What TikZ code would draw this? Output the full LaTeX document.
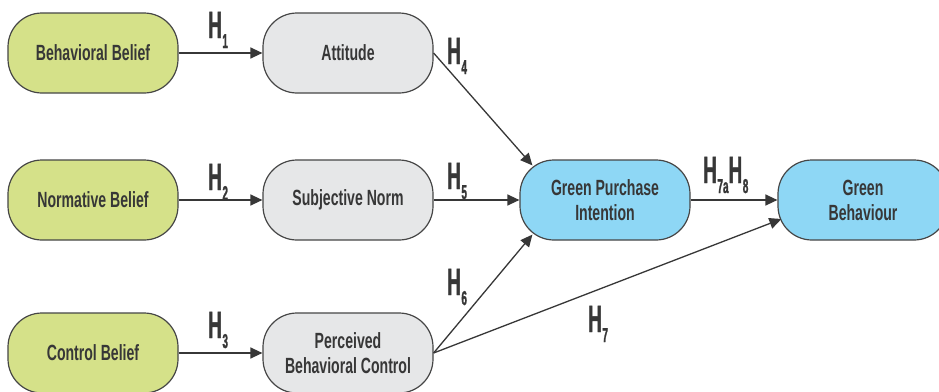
\documentclass[tikz,border=0pt]{standalone}
\usepackage{fontspec}
\setmainfont{Liberation Sans}
\newfontfamily\boxfont[FakeStretch=0.64]{Liberation Sans}
\newfontfamily\hfont[FakeStretch=0.5,FakeBold=1.2]{Liberation Sans}
\usetikzlibrary{arrows.meta,calc}
\definecolor{greenfill}{RGB}{213,225,137}
\definecolor{grayfill}{RGB}{230,231,232}
\definecolor{bluefill}{RGB}{142,215,245}
\definecolor{edgecol}{RGB}{70,70,70}
\definecolor{txtcol}{RGB}{55,55,55}
\newcommand{\hyp}[1]{{\hfont\bfseries\fontsize{38}{38}\selectfont H\kern0.5pt\raisebox{-10pt}{\fontsize{20}{20}\selectfont #1}}}
\tikzset{
  box/.style={draw=edgecol, line width=1.2pt, rounded corners=34pt,
    minimum width=170pt, minimum height=80pt, inner sep=0pt, align=center,
    text=txtcol, font=\boxfont\bfseries\fontsize{22}{25}\selectfont},
  greenbox/.style={box, fill=greenfill},
  graybox/.style={box, fill=grayfill},
  bluebox/.style={box, fill=bluefill},
  conn/.style={draw=txtcol, line width=1.3pt, -{Triangle[length=12pt,width=11pt]}},
  hlabel/.style={anchor=base west, inner sep=0pt, text=txtcol}
}
\begin{document}
\begin{tikzpicture}[x=1pt,y=-1pt]
\clip (0,0) rectangle (939,391);
\fill[white] (0,0) rectangle (939,391);
% boxes
\node[greenbox] (bb) at (93,53) {Behavioral Belief};
\node[graybox] (att) at (348,53) {Attitude};
\node[greenbox] (nb) at (93,200) {Normative Belief};
\node[graybox] (sn) at (348,200) {Subjective Norm};
\node[greenbox] (cb) at (93,353) {Control Belief};
\node[graybox] (pbc) at (348,353) {Perceived\\Behavioral Control};
\node[bluebox] (gpi) at (605,200) {Green Purchase\\Intention};
\node[bluebox] (gb) at (863,200) {Green\\Behaviour};
% connectors
\draw[conn] (bb) -- (att);
\draw[conn] (nb) -- (sn);
\draw[conn] (cb) -- (pbc);
\draw[conn] (sn) -- (gpi);
\draw[conn] (gpi) -- (gb);
\draw[conn] (att.east) -- ($(gpi.north west)+(13,6)$);
\draw[conn] (pbc.east) -- ($(gpi.south west)+(13,-6)$);
\draw[conn] (pbc.east) -- ($(gb.west)+(4,19)$);
% labels
\node[hlabel] (h1) at (208,38) {\hyp{1}};
\node[hlabel] (h2) at (208,190) {\hyp{2}};
\node[hlabel] (h3) at (208,338) {\hyp{3}};
\node[hlabel] (h4) at (447,64) {\hyp{4}};
\node[hlabel] (h5) at (447,189) {\hyp{5}};
\node[hlabel] (h6) at (447,295) {\hyp{6}};
\node[hlabel] (h7) at (588,332) {\hyp{7}};
\node[hlabel] (h78) at (703,183) {\hyp{7a}\hyp{8}};
\end{tikzpicture}
\end{document}
